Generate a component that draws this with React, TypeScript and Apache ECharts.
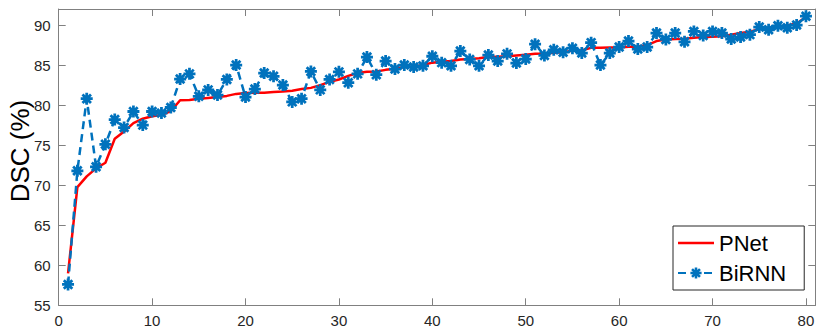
import React, { useEffect, useRef } from "react";
import * as echarts from "echarts";

const seriesNames = ["PNet", "BiRNN"];

const pnetValues = [
  59.0, 69.75, 71.1, 72.1, 72.8, 75.8, 76.7, 77.75, 78.3, 78.6,
  78.75, 79.25, 80.6, 80.65, 80.8, 80.9, 81.0, 81.15, 81.4, 81.5,
  81.55, 81.55, 81.65, 81.7, 81.8, 82.0, 82.15, 82.5, 82.9, 83.2,
  83.65, 84.0, 84.15, 84.2, 84.4, 84.55, 84.75, 84.8, 85.0, 85.3,
  85.4, 85.5, 85.7, 85.75, 85.85, 86.0, 86.05, 86.1, 86.2, 86.3,
  86.4, 86.45, 86.55, 86.6, 86.8, 86.85, 87.15, 87.15, 87.2, 87.2,
  87.3, 87.3, 87.5, 88.0, 88.2, 88.25, 88.3, 88.4, 88.5, 88.55,
  88.6, 88.8, 89.0, 89.15, 89.5, 89.65, 89.8, 89.95, 90.2, 91.0,
];

const birnnValues = [
  57.6, 71.8, 80.8, 72.3, 75.1, 78.2, 77.2, 79.2, 77.5, 79.2,
  79.0, 79.7, 83.25, 83.9, 81.1, 81.9, 81.25, 83.2, 85.0, 81.0,
  82.0, 84.0, 83.6, 82.5, 80.4, 80.8, 84.2, 81.9, 83.2, 84.15,
  82.8, 83.9, 86.0, 83.8, 85.5, 84.5, 85.0, 84.75, 84.9, 86.1,
  85.3, 84.9, 86.75, 85.7, 84.9, 86.25, 85.5, 86.4, 85.25, 85.75,
  87.6, 86.2, 86.9, 86.6, 87.1, 86.5, 87.8, 85.0, 86.5, 87.25,
  88.0, 87.0, 87.25, 89.0, 88.2, 89.0, 87.9, 89.2, 88.7, 89.2,
  89.0, 88.25, 88.5, 88.8, 89.75, 89.4, 89.9, 89.65, 90.0, 91.1,
];

const xAxisRange = { min: 0, max: 81, interval: 10 };
const yAxisRange = { min: 55, max: 92, interval: 5 };
const yAxisTitle = "DSC (%)";

function asteriskPath(): string {
  const c = 10;
  const arm = 10;
  const t = 2.3;
  let d = "";
  for (const deg of [0, 45, 90, 135]) {
    const a = (deg * Math.PI) / 180;
    const dx = Math.cos(a), dy = Math.sin(a);
    const nx = -dy, ny = dx;
    const pts = [
      [c - arm * dx - t * nx, c - arm * dy - t * ny],
      [c + arm * dx - t * nx, c + arm * dy - t * ny],
      [c + arm * dx + t * nx, c + arm * dy + t * ny],
      [c - arm * dx + t * nx, c - arm * dy + t * ny],
    ];
    d += "M" + pts.map((p) => p[0].toFixed(3) + " " + p[1].toFixed(3)).join(" L") + " Z ";
  }
  return "path://" + d.trim();
}

const AXIS_COLOR = "#808080";
const LABEL_COLOR = "#262626";
const FONT = "Liberation Sans, Arial, Helvetica, sans-serif";

export default function App() {
  const ref = useRef<HTMLDivElement>(null);
  useEffect(() => {
    if (!ref.current) return;
    const chart = echarts.init(ref.current, null, { renderer: "svg" });
    const star = asteriskPath();
    const baseX = {
      type: "value" as const,
      min: xAxisRange.min,
      max: xAxisRange.max,
      interval: xAxisRange.interval,
      splitLine: { show: false },
      axisLine: { show: true, onZero: false, lineStyle: { color: AXIS_COLOR, width: 1 } },
      axisTick: { show: true, inside: true, length: 7, lineStyle: { color: AXIS_COLOR } },
    };
    const baseY = {
      type: "value" as const,
      min: yAxisRange.min,
      max: yAxisRange.max,
      interval: yAxisRange.interval,
      splitLine: { show: false },
      axisLine: { show: true, onZero: false, lineStyle: { color: AXIS_COLOR, width: 1 } },
      axisTick: { show: true, inside: true, length: 7, lineStyle: { color: AXIS_COLOR } },
    };
    chart.setOption({
      animation: false,
      backgroundColor: "#ffffff",
      textStyle: { fontFamily: FONT },
      grid: {
        left: 58.7,
        right: 14.7,
        top: 9,
        bottom: 30.7,
        containLabel: false,
        outerBoundsMode: "none",
      },
      graphic: [
        {
          type: "text",
          x: 20,
          y: 151,
          rotation: Math.PI / 2,
          style: {
            text: yAxisTitle,
            fontSize: 26,
            fontFamily: FONT,
            fill: "#000",
            align: "center",
            verticalAlign: "middle",
          },
        },
      ],
      xAxis: [
        {
          ...baseX,
          position: "bottom",
          axisLabel: {
            color: LABEL_COLOR,
            fontSize: 15,
            fontFamily: FONT,
            margin: 8,
            formatter: (v: number) => (v % 10 === 0 ? String(v) : ""),
          },
        },
        { ...baseX, position: "top", axisLabel: { show: false } },
      ],
      yAxis: [
        {
          ...baseY,
          position: "left",
          axisLabel: {
            color: LABEL_COLOR,
            fontSize: 15,
            fontFamily: FONT,
            margin: 8,
            formatter: (v: number) => (v % 5 === 0 ? String(v) : ""),
          },
        },
        { ...baseY, position: "right", axisLabel: { show: false } },
      ],
      legend: {
        data: [
          { name: seriesNames[0], icon: "path://M0 0 L36 0 L36 2.5 L0 2.5 Z" },
          { name: seriesNames[1] },
        ],
        orient: "vertical",
        left: 673,
        top: 226,
        itemWidth: 36,
        itemHeight: 14,
        itemGap: 8,
        itemTextGap: 7,
        symbolKeepAspect: true,
        padding: [6, 18, 6, 4],
        borderColor: "#262626",
        borderWidth: 1,
        backgroundColor: "#ffffff",
        textStyle: { fontSize: 22, color: "#000", fontFamily: FONT },
      },
      series: [
        {
          name: seriesNames[0],
          type: "line",
          xAxisIndex: 0,
          yAxisIndex: 0,
          data: pnetValues.map((v, i) => [i + 1, v]),
          symbol: "none",
          showSymbol: false,
          lineStyle: { color: "#ff0000", width: 2.5 },
          itemStyle: { color: "#ff0000" },
          z: 2,
        },
        {
          name: seriesNames[1],
          type: "line",
          xAxisIndex: 0,
          yAxisIndex: 0,
          data: birnnValues.map((v, i) => [i + 1, v]),
          symbol: star,
          symbolSize: 12,
          symbolKeepAspect: true,
          showSymbol: true,
          lineStyle: { color: "#0072BD", width: 2.5, type: [8, 5] },
          itemStyle: { color: "#0072BD", borderWidth: 0 },
          z: 3,
        },
      ],
    });
    return () => chart.dispose();
  }, []);
  return <div ref={ref} style={{ width: 830, height: 336, marginLeft: -8, marginTop: -8 }} />;
}
